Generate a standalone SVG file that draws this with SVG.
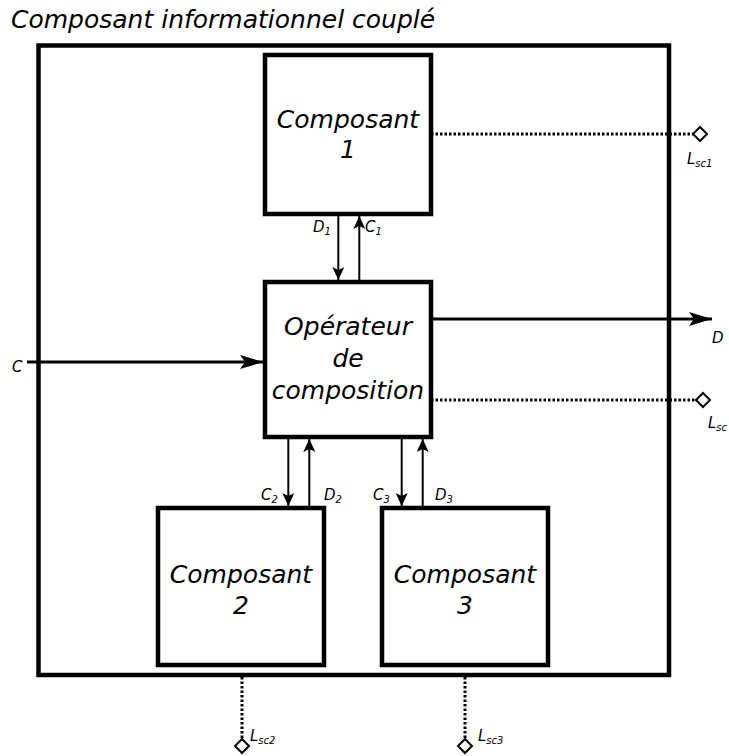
<svg xmlns="http://www.w3.org/2000/svg" width="729" height="756" viewBox="0 0 729 756">
<defs>
<style>
.box{fill:#fff;stroke:#000;stroke-width:4.5}
.t{font-family:"DejaVu Sans","Liberation Sans",sans-serif;font-style:italic;font-size:25px;fill:#000;text-anchor:middle}
.title{font-family:"DejaVu Sans","Liberation Sans",sans-serif;font-style:italic;font-size:25px;fill:#000}
.s{font-family:"DejaVu Sans","Liberation Sans",sans-serif;font-style:italic;font-size:15px;fill:#000}
.sub{font-size:10px}
.ln{stroke:#000;stroke-width:2;fill:none}
.big{stroke:#000;stroke-width:3;fill:none}
.dot{stroke:#000;stroke-width:3;stroke-dasharray:2.5 2;fill:none}
.dia{fill:#fff;stroke:#000;stroke-width:2}
</style>
<marker id="ah" markerUnits="userSpaceOnUse" markerWidth="14" markerHeight="12" viewBox="0 0 14 12" refX="13" refY="6" orient="auto">
<path d="M0,0 L13,6 L0,12 L3,6 z" fill="#000"/>
</marker>
<marker id="ahb" markerUnits="userSpaceOnUse" markerWidth="24" markerHeight="14" viewBox="0 0 24 14" refX="23" refY="7" orient="auto">
<path d="M0,0 L23,7 L0,14 L5,7 z" fill="#000"/>
</marker>
</defs>
<text class="title" x="11" y="28">Composant informationnel couplé</text>
<g id="outer"><rect class="box" x="38.5" y="45.5" width="630.5" height="629.5"/></g>
<g id="connectors">
<line class="dot" x1="431" y1="134" x2="693" y2="134"/>
<line class="dot" x1="431" y1="400" x2="696" y2="400"/>
<line class="dot" x1="242" y1="677" x2="242" y2="739"/>
<line class="dot" x1="465" y1="677" x2="465" y2="739"/>
<line class="big" x1="433" y1="319" x2="712" y2="319" marker-end="url(#ahb)"/>
<line class="big" x1="27" y1="362" x2="263" y2="362" marker-end="url(#ahb)"/>
<line class="ln" x1="338.3" y1="216" x2="338.3" y2="280" marker-end="url(#ah)"/>
<line class="ln" x1="359.3" y1="280" x2="359.3" y2="216" marker-end="url(#ah)"/>
<line class="ln" x1="288.3" y1="439" x2="288.3" y2="506" marker-end="url(#ah)"/>
<line class="ln" x1="309.3" y1="506" x2="309.3" y2="439" marker-end="url(#ah)"/>
<line class="ln" x1="401.7" y1="439" x2="401.7" y2="506" marker-end="url(#ah)"/>
<line class="ln" x1="422.7" y1="506" x2="422.7" y2="439" marker-end="url(#ah)"/>
<polygon class="dia" points="700,127 707,134 700,141 693,134"/>
<polygon class="dia" points="703,393 710,400 703,407 696,400"/>
<polygon class="dia" points="242,739 249,746 242,753 235,746"/>
<polygon class="dia" points="465,739 472,746 465,753 458,746"/>
<text class="s" x="313" y="232">D<tspan class="sub" dy="3">1</tspan></text>
<text class="s" x="365" y="232">C<tspan class="sub" dy="3">1</tspan></text>
<text class="s" x="261" y="500">C<tspan class="sub" dy="3">2</tspan></text>
<text class="s" x="324" y="500">D<tspan class="sub" dy="3">2</tspan></text>
<text class="s" x="373" y="500">C<tspan class="sub" dy="3">3</tspan></text>
<text class="s" x="435" y="500">D<tspan class="sub" dy="3">3</tspan></text>
<text class="s" x="712" y="343">D</text>
<text class="s" x="12" y="372">C</text>
<text class="s" x="687" y="164">L<tspan class="sub" dy="3">sc1</tspan></text>
<text class="s" x="708" y="428">L<tspan class="sub" dy="3">sc</tspan></text>
<text class="s" x="250" y="741">L<tspan class="sub" dy="3">sc2</tspan></text>
<text class="s" x="478" y="741">L<tspan class="sub" dy="3">sc3</tspan></text>
</g>
<g id="comp1"><rect class="box" x="265" y="55" width="166" height="159"/>
<text class="t" x="348" y="128">Composant</text><text class="t" x="348" y="158">1</text></g>
<g id="operateur"><rect class="box" x="265" y="282" width="166" height="155"/>
<text class="t" x="348" y="335">Opérateur</text><text class="t" x="348" y="367">de</text><text class="t" x="348" y="399">composition</text></g>
<g id="comp2"><rect class="box" x="158" y="508" width="166" height="157"/>
<text class="t" x="241" y="583">Composant</text><text class="t" x="241" y="614">2</text></g>
<g id="comp3"><rect class="box" x="382" y="508" width="166" height="157"/>
<text class="t" x="465" y="583">Composant</text><text class="t" x="465" y="614">3</text></g>
</svg>
